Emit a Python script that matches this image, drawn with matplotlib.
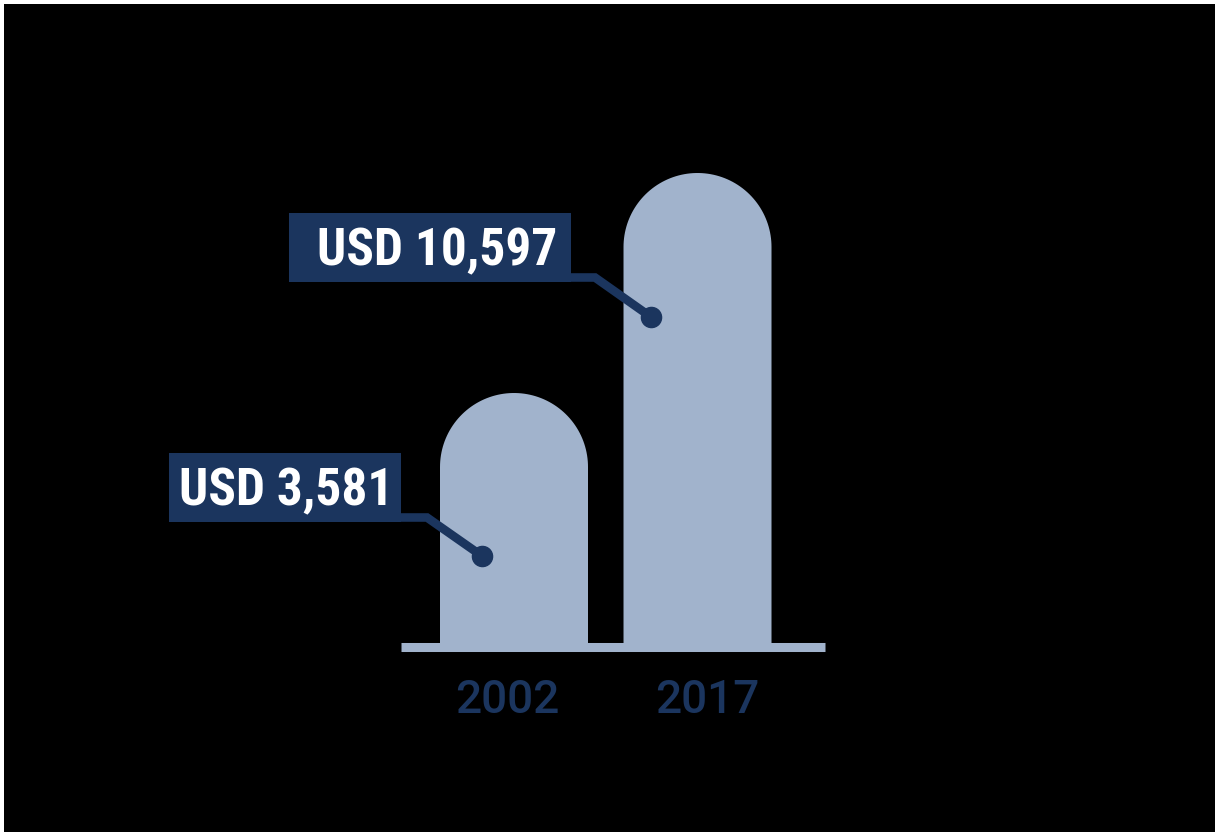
import matplotlib.pyplot as plt
from matplotlib.patches import Rectangle, Polygon
import numpy as np

years = ["2002", "2017"]
values = [3581, 10597]
value_labels = ["USD 3,581", "USD 10,597"]

bar_color = "#a1b3cc"
navy = "#1b355e"

W, H = 1215, 832
fig = plt.figure(figsize=(W / 100, H / 100), dpi=100)
fig.patch.set_facecolor("black")

# bar axes, value scale
ax = fig.add_axes([0, 0, 1, 1])
ax.set_facecolor("black")
x0, x1 = -2.801, 3.820
y0, y1 = -10419, 16114
base = -4519
ax.set_xlim(x0, x1)
ax.set_ylim(y0, y1)
ax.axis("off")

width = 0.8065
px_x = W / (x1 - x0)
px_y = H / (y1 - y0)
rx = width / 2
ry = rx * px_x / px_y

# bars with a round cap on top
t = np.linspace(0, np.pi, 80)
for i, v in enumerate(values):
    top = v - ry
    xs = np.concatenate([[i - rx], i - rx * np.cos(t), [i + rx]])
    ys = np.concatenate([[base], top + ry * np.sin(t), [base]])
    ax.add_patch(Polygon(np.column_stack([xs, ys]), closed=True,
                         facecolor=bar_color, edgecolor="none"))
    ax.annotate(years[i], xy=(i, base), xytext=(-7 if i == 0 else 10, -66),
                textcoords="offset pixels", ha="center", va="baseline",
                fontsize=33, fontweight="medium", color=navy, family="Roboto")

ax.hlines(base, -0.616, 1.695, color=bar_color, lw=6.5)

# label boxes and leader lines, figure pixels
ov = fig.add_axes([0, 0, 1, 1])
ov.set_xlim(0, W)
ov.set_ylim(H, 0)
ov.axis("off")
ov.patch.set_alpha(0)

boxes = [(169, 453, 232, 69), (289, 213, 282, 69)]
text_pos = [(286, 505), (437, 265)]
leaders = [[(401, 517.5), (427, 517.5), (482, 556)],
           [(571, 277.5), (595, 277.5), (651, 317)]]

for (bx, by, bw, bh), (tx, ty), pts, lab in zip(boxes, text_pos, leaders, value_labels):
    ov.add_patch(Rectangle((bx, by), bw, bh, facecolor=navy, edgecolor="none"))
    ov.text(tx, ty, lab, ha="center", va="baseline", color="white",
            fontsize=37, fontweight="bold", fontstretch="condensed",
            family=["Roboto Condensed", "DejaVu Sans"])
    px, py = zip(*pts)
    ov.plot(px, py, color=navy, lw=6.2, solid_joinstyle="miter", solid_capstyle="butt")
    ov.plot(px[-1], py[-1], "o", color=navy, ms=14.5)

# thin white edge along top and left
ov.add_patch(Rectangle((0, 0), W, 4, facecolor="white", edgecolor="none"))
ov.add_patch(Rectangle((0, 0), 4, H, facecolor="white", edgecolor="none"))

fig.savefig("out.png", dpi=100, facecolor=fig.get_facecolor())
